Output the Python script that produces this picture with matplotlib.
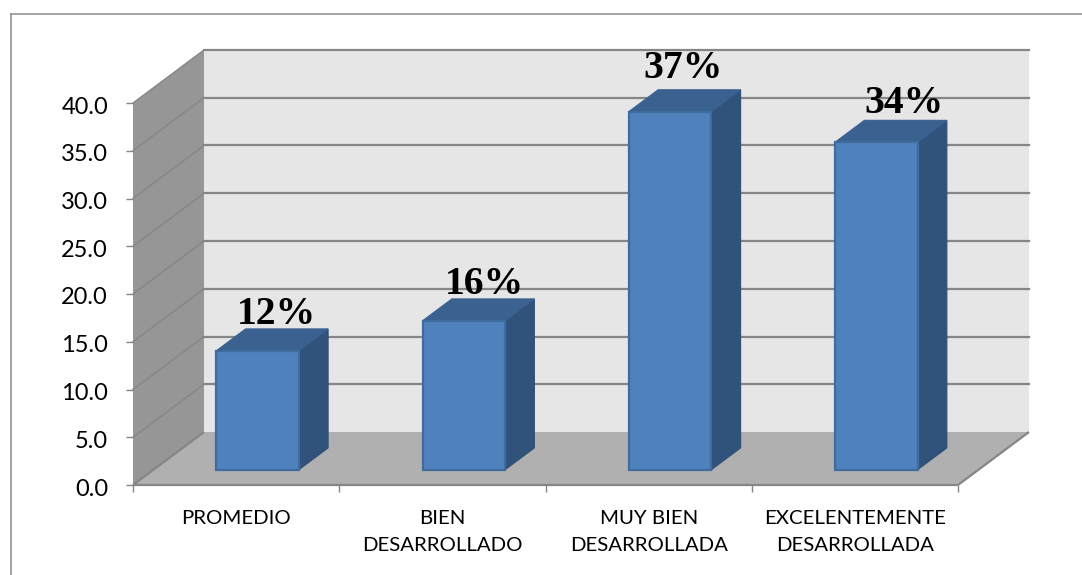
import matplotlib
matplotlib.use("Agg")
import matplotlib.pyplot as plt
from matplotlib.patches import Polygon
from matplotlib.transforms import ScaledTranslation

categories = ["PROMEDIO", "BIEN\nDESARROLLADO", "MUY BIEN\nDESARROLLADA", "EXCELENTEMENTE\nDESARROLLADA"]
values = [12.46, 15.6, 37.5, 34.3]
labels = ["12%", "16%", "37%", "34%"]
y_ticks = [0, 5, 10, 15, 20, 25, 30, 35, 40]

# offset of each data label from the bar top, in points
label_dx = [13.5, 14.5, 9.5, 19.5]
label_dy = [19, 19, 24, 21]

W, H = 1082, 575
fig = plt.figure(figsize=(W / 100, H / 100), dpi=100)
ax = fig.add_axes([133 / W, (H - 485) / H, 825 / W, 382 / H])
ax.set_xlim(0, 4)
ax.set_ylim(0, 40)
ax.patch.set_visible(False)
for s in ax.spines.values():
    s.set_visible(False)

# fake 3d: depth d goes from 0 (front) to 1 (back wall)
DX = 71 / (825 / 4)
DY = 53 / (382 / 40)


def pr(x, y, d):
    return (x + d * DX, y + d * DY)


def poly(points, color, edge="none", lw=0.0, z=1):
    ax.add_patch(Polygon([pr(*p) for p in points], closed=True, facecolor=color,
                         edgecolor=edge, linewidth=lw, zorder=z, clip_on=False,
                         joinstyle="miter"))


grid_c = "#868686"
poly([(0, 0, 1), (4, 0, 1), (4, 40, 1), (0, 40, 1)], "#E6E6E6")
poly([(0, 0, 0), (0, 0, 1), (0, 40, 1), (0, 40, 0)], "#969696")
poly([(0, 0, 0), (4, 0, 0), (4, 0, 1), (0, 0, 1)], "#B0B0B0")

for v in y_ticks:
    if v > 0:
        a = pr(0, v, 1)
        b = pr(4, v, 1)
        ax.plot([a[0], b[0]], [a[1], b[1]], color=grid_c, lw=1.6, zorder=2, clip_on=False)
        c = pr(0, v, 0)
        ax.plot([c[0], a[0]], [c[1], a[1]], color=grid_c, lw=1.0, zorder=2, clip_on=False)

# floor edges
for p, q in [((0, 0, 0), (4, 0, 0)), ((4, 0, 0), (4, 0, 1)), ((0, 0, 0), (0, 0, 1))]:
    a, b = pr(*p), pr(*q)
    ax.plot([a[0], b[0]], [a[1], b[1]], color=grid_c, lw=1.6, zorder=2, clip_on=False,
            solid_capstyle="butt")

bar_w = 0.4
d0, d1 = 0.29, 0.70
edge_c = "#3F6C9F"
for i, v in enumerate(values):
    l = i + 0.5 - bar_w / 2 + 0.005
    r = l + bar_w
    poly([(r, 0, d0), (r, 0, d1), (r, v, d1), (r, v, d0)], "#31527A", "#2F4F78", 0.8, 3)
    poly([(l, v, d0), (r, v, d0), (r, v, d1), (l, v, d1)], "#3A6190", "#3A6190", 0.8, 3)
    poly([(l, 0, d0), (r, 0, d0), (r, v, d0), (l, v, d0)], "#4F81BD", edge_c, 1.6, 4)
    ax.annotate(labels[i], xy=pr(l + bar_w / 2, v, d0), xytext=(label_dx[i], label_dy[i]),
                textcoords="offset points", ha="center", va="baseline",
                family="Liberation Serif", weight="bold", fontsize=28.5, color="black",
                zorder=6, annotation_clip=False)

ax.set_yticks(y_ticks)
ax.set_yticklabels(["%.1f" % v for v in y_ticks], family="Lato", fontsize=17, color="black")
ax.tick_params(axis="y", length=5, width=1, color=grid_c, pad=13)
for lbl in ax.get_yticklabels():
    lbl.set_transform(lbl.get_transform() + ScaledTranslation(0, -2 / 100, fig.dpi_scale_trans))

ax.set_xticks(range(5))
ax.set_xticklabels([])
ax.set_xticks([i + 0.5 for i in range(4)], minor=True)
ax.set_xticklabels(categories, minor=True, family="Lato", fontsize=14.7, color="black",
                   linespacing=1.72)
ax.tick_params(axis="x", which="major", length=5, width=1, color=grid_c)
ax.tick_params(axis="x", which="minor", length=0, pad=18)

# outer chart border, only top and left are visible in the crop
border_c = "#8C8C8C"
fig.add_artist(plt.Line2D([10.5 / W, 10.5 / W], [0, (H - 13.5) / H], color=border_c, lw=1.1))
fig.add_artist(plt.Line2D([10.5 / W, 1], [(H - 13.5) / H, (H - 13.5) / H], color=border_c, lw=1.1))

fig.savefig("out.png", dpi=100)
